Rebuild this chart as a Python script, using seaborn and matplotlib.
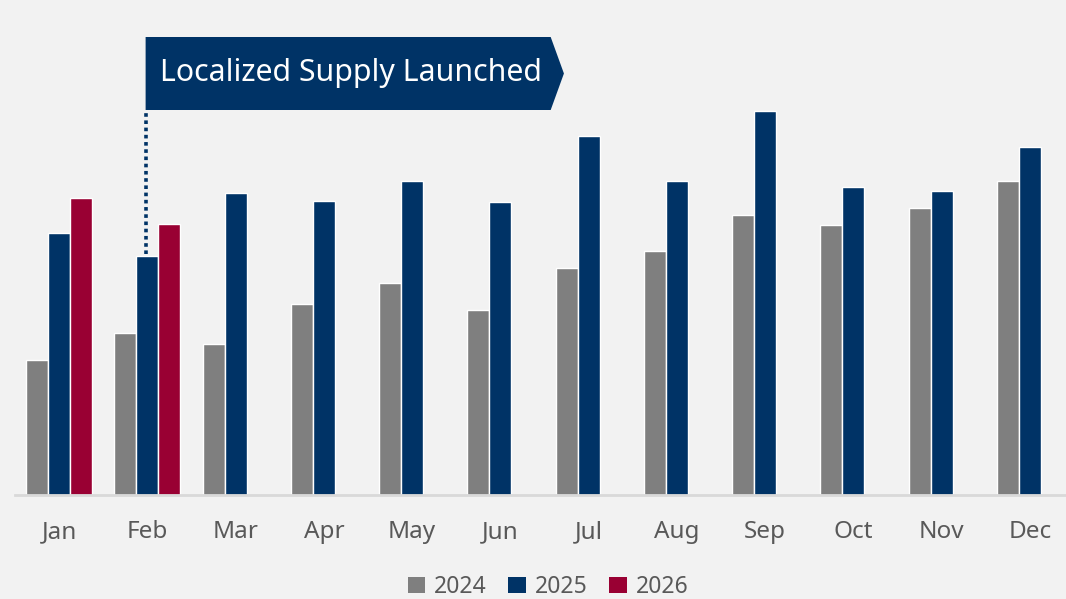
import matplotlib
matplotlib.use("Agg")
import matplotlib.pyplot as plt
from matplotlib.patches import Polygon, Patch
import numpy as np
import pandas as pd
import seaborn as sns

months = ["Jan", "Feb", "Mar", "Apr", "May", "Jun",
          "Jul", "Aug", "Sep", "Oct", "Nov", "Dec"]
years = ["2024", "2025", "2026"]
values_2024 = [135, 162, 151, 191, 212, 185, 227, 244, 280, 270, 287, 314]
values_2025 = [262, 239, 302, 294, 314, 293, 359, 314, 384, 308, 304, 348]
values_2026 = [297, 271] + [np.nan] * 10
banner_text = "Localized Supply Launched"
event_month = "Feb"
event_year = "2025"

colors = {"2024": "#7f7f7f", "2025": "#003366", "2026": "#990033"}
bg = "#f2f2f2"

df = pd.DataFrame({
    "month": months * 3,
    "year": ["2024"] * 12 + ["2025"] * 12 + ["2026"] * 12,
    "value": values_2024 + values_2025 + values_2026,
})

sns.set_theme(style="white")
plt.rcParams["font.family"] = ["Noto Sans", "DejaVu Sans"]

fig = plt.figure(figsize=(10.66, 5.99), dpi=100, facecolor=bg)
ax = fig.add_axes([15 / 1066, 104 / 599, 1051 / 1066 + 0.01, 495 / 599])
ax.set_facecolor(bg)

sns.barplot(data=df, x="month", y="value", hue="year", order=months,
            hue_order=years, palette=colors, width=0.75, gap=0,
            edgecolor="white", linewidth=1.0, saturation=1,
            legend=False, ax=ax)

ax.set_xlim(-0.5, 11.53)
ax.set_ylim(0, 495)
ax.set_yticks([])
ax.set_xlabel("")
ax.set_ylabel("")
for side in ["top", "right", "left"]:
    ax.spines[side].set_visible(False)
ax.spines["bottom"].set_color("#d9d9d9")
ax.spines["bottom"].set_linewidth(2)
ax.tick_params(axis="x", length=0, pad=18, labelsize=17.5, labelcolor="#595959")

# Event banner with dotted leader to the bar it refers to
ev_x = months.index(event_month)
ev_val = values_2025[ev_x]
b_left, b_right, b_tip = ev_x - 0.02, 5.57, 5.72
b_bottom, b_top = 385, 458
ax.plot([ev_x - 0.01, ev_x - 0.01], [ev_val + 2, b_bottom], color=colors[event_year],
        linewidth=2.6, linestyle=(0, (1, 1)), dash_capstyle="butt", clip_on=False)
banner = Polygon([[b_left, b_bottom], [b_left, b_top], [b_right, b_top],
                  [b_tip, (b_top + b_bottom) / 2], [b_right, b_bottom]],
                 closed=True, facecolor=colors[event_year], edgecolor="none",
                 clip_on=False, zorder=5)
ax.add_patch(banner)
ax.text((b_left + b_right) / 2 + 0.03, (b_top + b_bottom) / 2, banner_text,
        color="white", fontsize=21.8, ha="center", va="center", zorder=6)

handles = [Patch(facecolor=colors[y], edgecolor="none", label=y) for y in years]
leg = fig.legend(handles=handles, loc="center", bbox_to_anchor=(548 / 1066, 12 / 599),
                 ncol=3, frameon=False, fontsize=16.5, handlelength=0.75,
                 handleheight=0.75, handletextpad=0.4, columnspacing=0.95,
                 borderaxespad=0, borderpad=0)
for t in leg.get_texts():
    t.set_color("#595959")

fig.savefig("out.png", dpi=100, facecolor=bg)
